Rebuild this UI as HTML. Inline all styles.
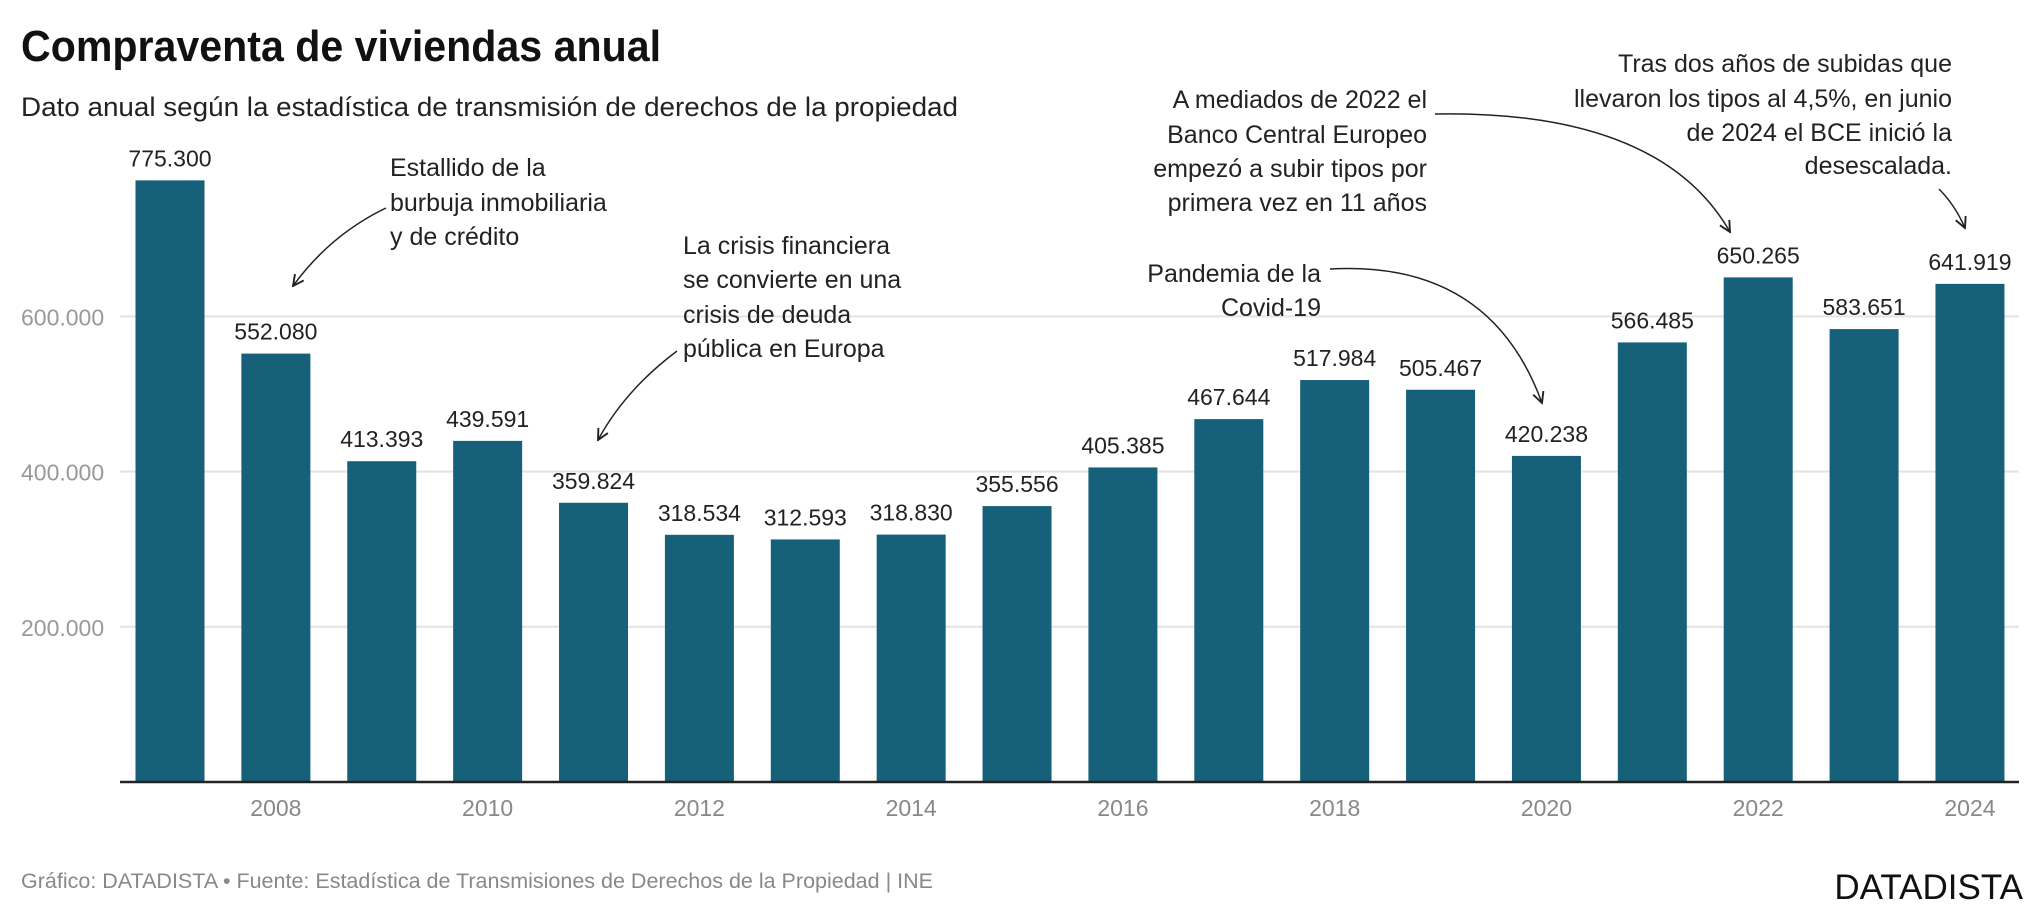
<!DOCTYPE html>
<html><head><meta charset="utf-8"><style>
html,body{margin:0;padding:0;background:#fff;}
svg{display:block;font-family:"Liberation Sans",Arial,sans-serif;}
</style></head><body>
<svg id="chart" width="2040" height="914" viewBox="0 0 2040 914">
<defs><marker id="ah" viewBox="0 0 10 10" refX="9" refY="5" markerWidth="9" markerHeight="9" orient="auto"><path d="M1,1 L9,5 L1,9" fill="none" stroke="#222" stroke-width="1.4"/></marker></defs>
<text x="21" y="61" font-size="44" font-weight="bold" fill="#111" textLength="640" lengthAdjust="spacingAndGlyphs">Compraventa de viviendas anual</text>
<text x="21" y="116" font-size="27" fill="#222" textLength="937" lengthAdjust="spacingAndGlyphs">Dato anual según la estadística de transmisión de derechos de la propiedad</text>
<g id="grid"></g><g id="bars"></g><g id="labels"></g>
<line x1="120" y1="782" x2="2019" y2="782" stroke="#222" stroke-width="2.5"/>
<g font-size="25" fill="#222">
<text x="390" y="176">Estallido de la</text><text x="390" y="211">burbuja inmobiliaria</text><text x="390" y="245">y de crédito</text></g>
<path d="M386,208 Q330,235 293,286" fill="none" stroke="#222" stroke-width="1.5" marker-end="url(#ah)"/>
<g font-size="25" fill="#222">
<text x="683" y="254">La crisis financiera</text><text x="683" y="288">se convierte en una</text><text x="683" y="323">crisis de deuda</text><text x="683" y="357">pública en Europa</text></g>
<path d="M677,351 Q625,390 598,440" fill="none" stroke="#222" stroke-width="1.5" marker-end="url(#ah)"/>
<g font-size="25" fill="#222" text-anchor="end">
<text x="1321" y="282">Pandemia de la</text><text x="1321" y="316">Covid-19</text></g>
<path d="M1330,269 Q1490,260 1542,403" fill="none" stroke="#222" stroke-width="1.5" marker-end="url(#ah)"/>
<g font-size="25" fill="#222" text-anchor="end">
<text x="1427" y="108">A mediados de 2022 el</text><text x="1427" y="143">Banco Central Europeo</text><text x="1427" y="177">empezó a subir tipos por</text><text x="1427" y="211">primera vez en 11 años</text></g>
<path d="M1435,114 Q1660,110 1730,232" fill="none" stroke="#222" stroke-width="1.5" marker-end="url(#ah)"/>
<g font-size="25" fill="#222" text-anchor="end">
<text x="1952" y="72">Tras dos años de subidas que</text><text x="1952" y="107">llevaron los tipos al 4,5%, en junio</text><text x="1952" y="141">de 2024 el BCE inició la</text><text x="1952" y="174">desescalada.</text></g>
<path d="M1939,189 Q1955,205 1965,228" fill="none" stroke="#222" stroke-width="1.5" marker-end="url(#ah)"/>
<text x="21" y="888" font-size="21" fill="#888" textLength="912" lengthAdjust="spacingAndGlyphs">Gráfico: DATADISTA • Fuente: Estadística de Transmisiones de Derechos de la Propiedad | INE</text>
<text x="2023" y="899" font-size="35" fill="#111" text-anchor="end">DATADISTA</text>
</svg>
<script>
const years=[2007,2008,2009,2010,2011,2012,2013,2014,2015,2016,2017,2018,2019,2020,2021,2022,2023,2024];
const values=[775300,552080,413393,439591,359824,318534,312593,318830,355556,405385,467644,517984,505467,420238,566485,650265,583651,641919];
const valueLabels=["775.300","552.080","413.393","439.591","359.824","318.534","312.593","318.830","355.556","405.385","467.644","517.984","505.467","420.238","566.485","650.265","583.651","641.919"];
const yTicks=[200000,400000,600000];
const yTickLabels=["200.000","400.000","600.000"];
const xTicks=[2008,2010,2012,2014,2016,2018,2020,2022,2024];
const NS="http://www.w3.org/2000/svg";
const y0=782, pxPer=155.2/200000;
function yScale(v){return y0-v*pxPer;}
function xScale(yr){return 170+(yr-2007)*105.88;}
const bw=69;
function mk(tag,attrs,parent){const e=document.createElementNS(NS,tag);for(const k in attrs)e.setAttribute(k,attrs[k]);parent.appendChild(e);return e;}
const grid=document.getElementById('grid'),bars=document.getElementById('bars'),labels=document.getElementById('labels');
yTicks.forEach((t,i)=>{
  const l=mk('line',{x1:120,x2:2019,y1:yScale(t),y2:yScale(t),stroke:'#e3e3e3','stroke-width':2},grid);
  
  
  const tx=mk('text',{x:21,y:yScale(t)+9,'font-size':23,fill:'#999'},grid);
  tx.textContent=yTickLabels[i];
  
  
});
years.forEach((yr,i)=>{
  const r=mk('rect',{x:xScale(yr)-bw/2,y:yScale(values[i]),width:bw,height:y0-yScale(values[i]),fill:'#17607a'},bars);
  
  
  const t=mk('text',{x:xScale(yr),y:yScale(values[i])-14,'font-size':23,fill:'#222','text-anchor':'middle'},labels);
  t.textContent=valueLabels[i];
  
  
});
xTicks.forEach(yr=>{
  const t=mk('text',{x:xScale(yr),y:816,'font-size':23,fill:'#888','text-anchor':'middle'},labels);
  t.textContent=yr;
  
  
});
</script>
</body></html>
